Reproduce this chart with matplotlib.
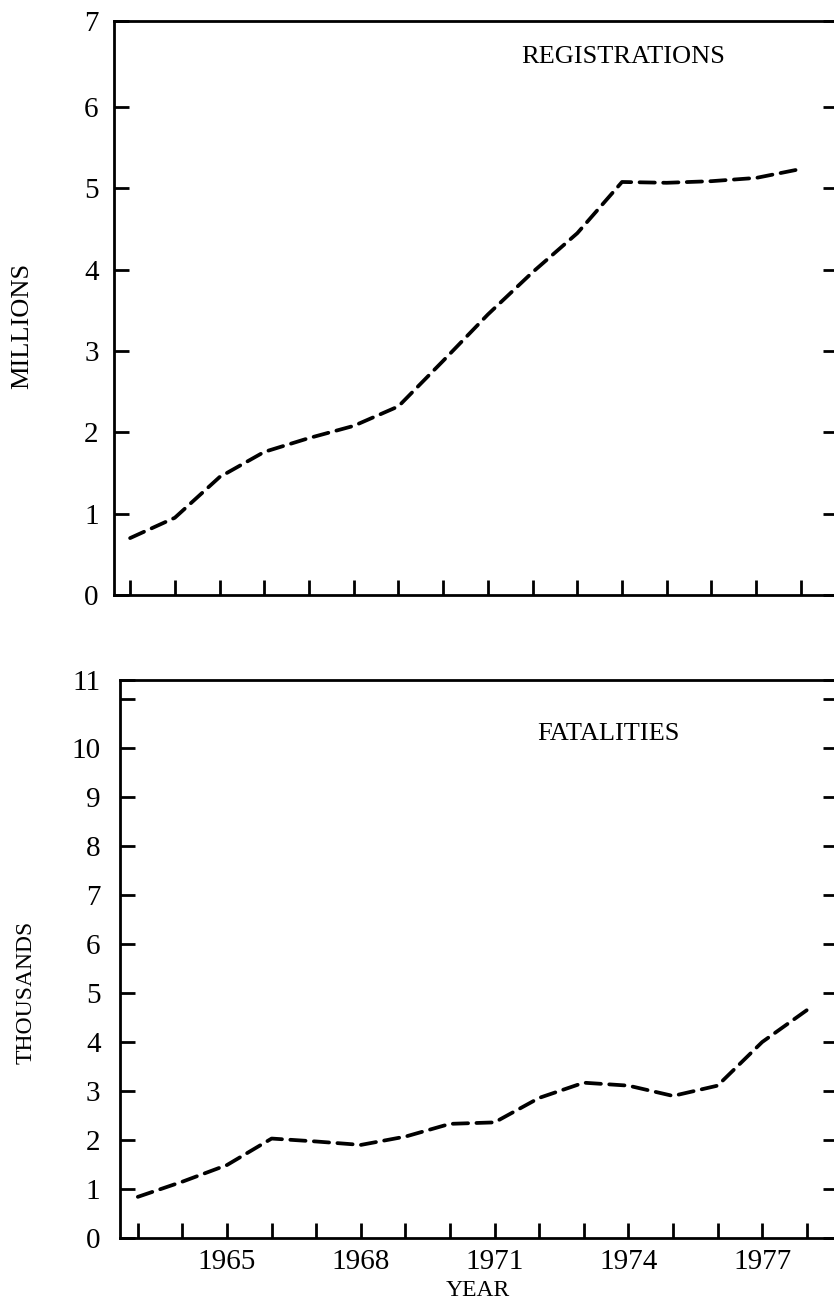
import matplotlib
matplotlib.use("Agg")
import matplotlib.pyplot as plt

# data
years = [1963, 1964, 1965, 1966, 1967, 1968, 1969, 1970, 1971, 1972,
         1973, 1974, 1975, 1976, 1977, 1978]
registrations = [0.70, 0.95, 1.45, 1.76, 1.93, 2.08, 2.32, 2.88, 3.45, 3.97,
                 4.45, 5.08, 5.07, 5.09, 5.13, 5.24]
fatalities = [0.84, 1.15, 1.49, 2.03, 1.97, 1.90, 2.07, 2.33, 2.36, 2.86,
              3.17, 3.11, 2.90, 3.11, 4.00, 4.65]
year_labels = ["", "", "1965", "", "", "1968", "", "", "1971", "", "",
               "1974", "", "", "1977", ""]

plt.rcParams["font.family"] = ["Liberation Serif", "DejaVu Serif"]
plt.rcParams["lines.scale_dashes"] = False

W, H = 834, 1306
fig = plt.figure(figsize=(W / 100, H / 100), dpi=100)

# axes placed in pixel terms (right spine sits just outside the scan)
ax1 = fig.add_axes([114 / W, 1 - 595 / H, 724 / W, 574 / H])
ax2 = fig.add_axes([120 / W, 1 - 1238 / H, 718 / W, 558 / H])

dash = (0, (11, 6))
for ax in (ax1, ax2):
    for s in ax.spines.values():
        s.set_linewidth(2.0)
    ax.tick_params(which="both", direction="in", length=11, width=2.0,
                   labelsize=21, left=True, right=True, bottom=True, top=False)

# top panel: registrations
ax1.plot(years, registrations, color="black", lw=2.7, ls=dash, dash_capstyle="round")
ax1.set_xlim(1962.64, 1978.83)
ax1.set_ylim(0, 7.06)
ax1.set_xticks(years)
ax1.set_xticklabels([])
ax1.set_yticks([0, 1, 2, 3, 4, 5, 6, 7.06])
ax1.set_yticklabels(["0", "1", "2", "3", "4", "5", "6", "7"])
ax1.tick_params(axis="y", pad=11, labelright=False)
ax1.text(0.703, 0.937, "REGISTRATIONS", transform=ax1.transAxes,
         ha="center", va="center", fontsize=19)

# bottom panel: fatalities
ax2.plot(years, fatalities, color="black", lw=2.7, ls=dash, dash_capstyle="round")
ax2.set_xlim(1962.60, 1978.70)
ax2.set_ylim(0, 11.39)
ax2.set_xticks(years)
ax2.set_xticklabels(year_labels)
ax2.set_yticks(list(range(11)) + [11.39])
ax2.set_yticklabels([str(i) for i in range(12)])
ax2.set_yticks([11], minor=True)
ax2.tick_params(axis="y", pad=14, labelright=False)
ax2.tick_params(axis="x", pad=8)
ax2.text(0.680, 0.903, "FATALITIES", transform=ax2.transAxes,
         ha="center", va="center", fontsize=19)

fig.text(22 / W, 1 - 326 / H, "MILLIONS", rotation=90, ha="center", va="center", fontsize=19)
fig.text(26 / W, 1 - 992 / H, "THOUSANDS", rotation=90, ha="center", va="center", fontsize=17)
fig.text(478 / W, 1 - 1290 / H, "YEAR", ha="center", va="center", fontsize=17)

fig.savefig("out.png", dpi=100)
plt.close(fig)
